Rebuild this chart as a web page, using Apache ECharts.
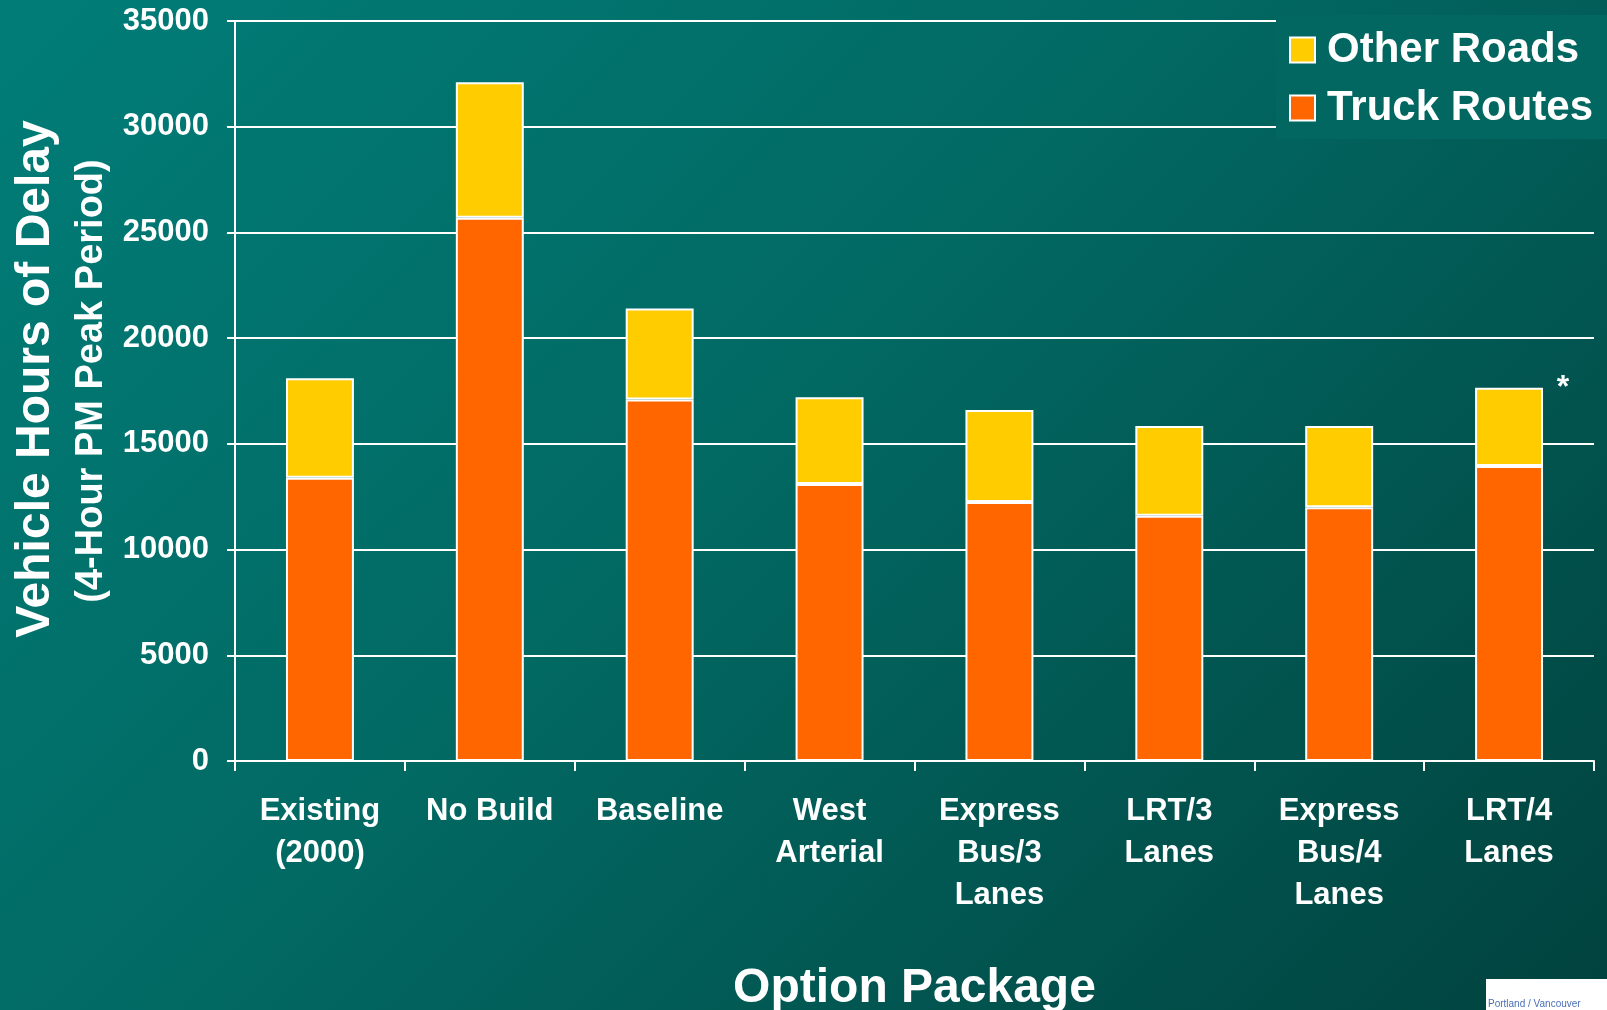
<!DOCTYPE html>
<html>
<head>
<meta charset="utf-8">
<script src="https://cdn.jsdelivr.net/npm/echarts@6/dist/echarts.min.js"></script>
<style>
  html, body { margin: 0; padding: 0; }
  body { background: linear-gradient(135deg, #017d78 0%, #026963 45%, #01423e 100%); }
  #chart { width: 1607px; height: 1010px; }
</style>
</head>
<body>
<div id="chart"></div>
<script>
var categories = ['Existing\n(2000)', 'No Build', 'Baseline', 'West\nArterial', 'Express\nBus/3\nLanes', 'LRT/3\nLanes', 'Express\nBus/4\nLanes', 'LRT/4\nLanes'];
var truckRoutes = [13400, 25700, 17100, 13100, 12250, 11600, 12000, 13950];
var otherRoads = [4700, 6400, 4300, 4100, 4350, 4250, 3850, 3700];
var yTicks = [0, 5000, 10000, 15000, 20000, 25000, 30000, 35000];

var font = '"Liberation Sans", Arial, sans-serif';
var chart = echarts.init(document.getElementById('chart'));

var option = {
    backgroundColor: 'transparent',
    textStyle: {fontFamily: font},
    grid: {left: 235, right: 13, top: 21, bottom: 249, outerBoundsMode: 'none'},
    legend: {
        data: ['Other Roads', 'Truck Routes'],
        orient: 'vertical',
        icon: 'rect',
        left: 1276,
        top: 15,
        padding: [14, 40, 10, 13],
        backgroundColor: '#036761',
        itemWidth: 25,
        itemHeight: 25,
        itemGap: 16,
        textStyle: {color: '#fff', fontSize: 42, fontWeight: 'bold', fontFamily: font, lineHeight: 42, padding: [0, 0, 0, 7]}
    },
    xAxis: {
        type: 'category',
        data: categories,
        name: 'Option Package',
        nameLocation: 'middle',
        nameGap: 204,
        nameTextStyle: {color: '#fff', fontSize: 48, fontWeight: 'bold', fontFamily: font},
        axisLine: {lineStyle: {color: '#fff', width: 2}},
        axisTick: {show: true, length: 10, lineStyle: {color: '#fff', width: 2}},
        axisLabel: {color: '#fff', fontSize: 31, fontWeight: 'bold', lineHeight: 42, margin: 29, interval: 0, fontFamily: font}
    },
    yAxis: {
        type: 'value',
        min: 0,
        max: 35000,
        interval: 5000,
        axisLine: {show: true, lineStyle: {color: '#fff', width: 2}},
        axisTick: {show: true, length: 8, lineStyle: {color: '#fff', width: 2}},
        axisLabel: {color: '#fff', fontSize: 31, fontWeight: 'bold', margin: 26, fontFamily: font,
            customValues: yTicks, formatter: function (v) { return String(v); }},
        splitLine: {lineStyle: {color: '#fff', width: 2}}
    },
    series: [
        {
            name: 'Truck Routes',
            type: 'bar',
            stack: 'total',
            barCategoryGap: '60%',
            data: truckRoutes,
            itemStyle: {color: '#ff6600', borderColor: '#fff', borderWidth: 2}
        },
        {
            name: 'Other Roads',
            type: 'bar',
            stack: 'total',
            data: otherRoads,
            itemStyle: {color: '#ffcc00', borderColor: '#fff', borderWidth: 2}
        }
    ],
    graphic: [
        {
            type: 'text', x: 36, y: 379, rotation: Math.PI / 2,
            style: {text: 'Vehicle Hours of Delay', fill: '#fff', font: 'bold 48px ' + font, align: 'center', verticalAlign: 'middle'}
        },
        {
            type: 'text', x: 92, y: 381, rotation: Math.PI / 2,
            style: {text: '(4-Hour PM Peak Period)', fill: '#fff', font: 'bold 38px ' + font, align: 'center', verticalAlign: 'middle'}
        },
        {
            type: 'text', x: 1563, y: 388,
            style: {text: '*', fill: '#fff', font: 'bold 32px ' + font, align: 'center', verticalAlign: 'middle'}
        },
        {
            type: 'rect', shape: {x: 1486, y: 979, width: 121, height: 31},
            style: {fill: '#fff'}
        },
        {
            type: 'text', x: 1488, y: 1004,
            style: {text: 'Portland / Vancouver', fill: '#4a6fb5', font: '10px ' + font, verticalAlign: 'middle'}
        }
    ]
};

chart.setOption(option);
</script>
</body>
</html>
